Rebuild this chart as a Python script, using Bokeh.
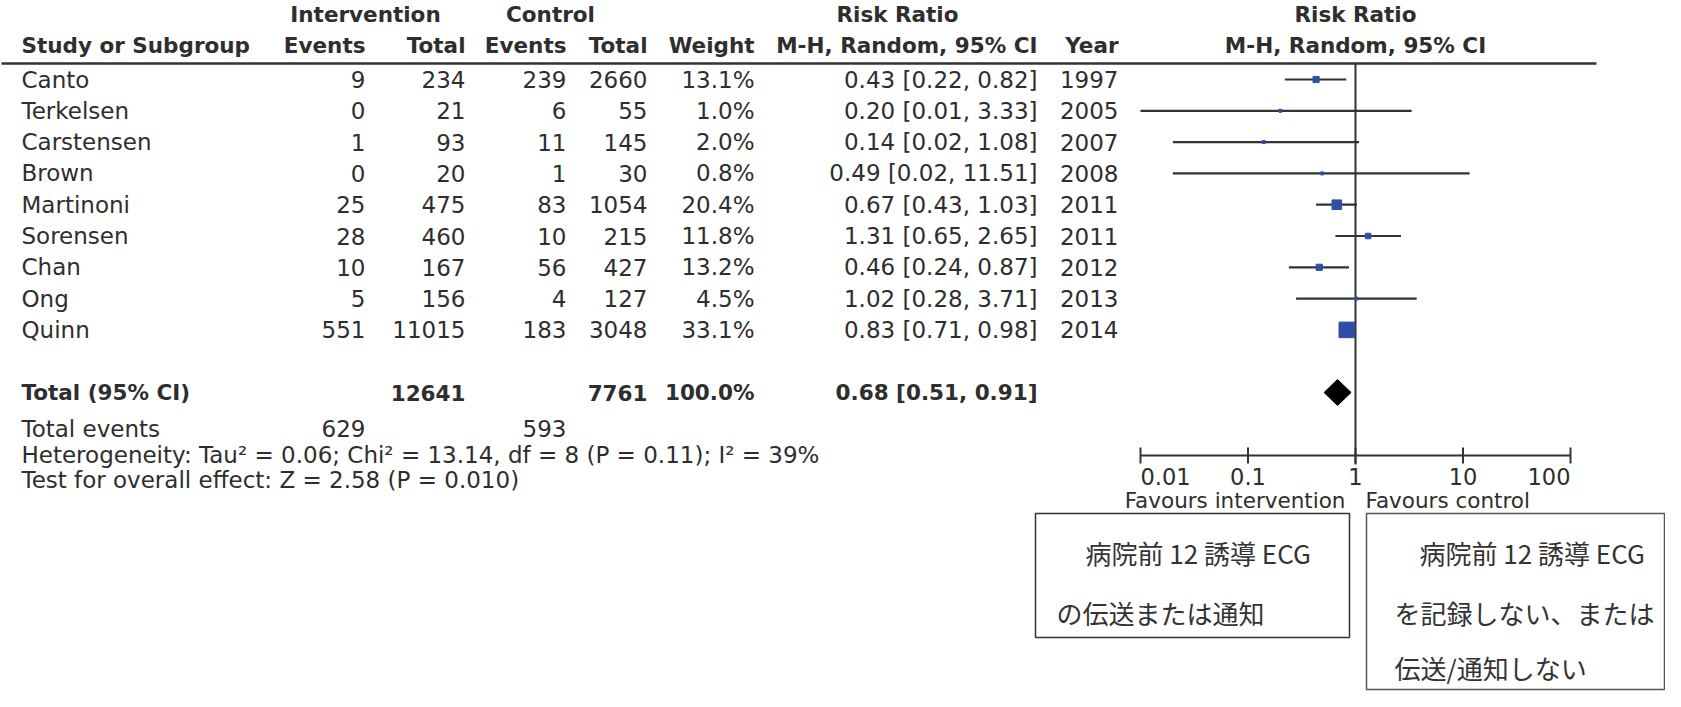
from bokeh.plotting import figure
from bokeh.models import Range1d, LogScale, ColumnDataSource
from bokeh.core.properties import value
from bokeh.embed import file_html
from bokeh.resources import INLINE

# ---------------- data ----------------
studies = ["Canto", "Terkelsen", "Carstensen", "Brown", "Martinoni",
           "Sorensen", "Chan", "Ong", "Quinn"]
int_events = [9, 0, 1, 0, 25, 28, 10, 5, 551]
int_total = [234, 21, 93, 20, 475, 460, 167, 156, 11015]
ctl_events = [239, 6, 11, 1, 83, 10, 56, 4, 183]
ctl_total = [2660, 55, 145, 30, 1054, 215, 427, 127, 3048]
weights = [13.1, 1.0, 2.0, 0.8, 20.4, 11.8, 13.2, 4.5, 33.1]
rr = [0.43, 0.20, 0.14, 0.49, 0.67, 1.31, 0.46, 1.02, 0.83]
rr_lo = [0.22, 0.01, 0.02, 0.02, 0.43, 0.65, 0.24, 0.28, 0.71]
rr_hi = [0.82, 3.33, 1.08, 11.51, 1.03, 2.65, 0.87, 3.71, 0.98]
years = [1997, 2005, 2007, 2008, 2011, 2011, 2012, 2013, 2014]

total_int = 12641
total_ctl = 7761
total_weight = 100.0
total_rr = 0.68
total_lo = 0.51
total_hi = 0.91
total_events_int = 629
total_events_ctl = 593
heterogeneity = "Heterogeneity: Tau\u00b2 = 0.06; Chi\u00b2 = 13.14, df = 8 (P = 0.11); I\u00b2 = 39%"
overall = "Test for overall effect: Z = 2.58 (P = 0.010)"

tick_values = [0.01, 0.1, 1, 10, 100]
tick_labels = ["0.01", "0.1", "1", "10", "100"]
favours_left = "Favours intervention"
favours_right = "Favours control"
box_left_lines = ["病院前 12 誘導 ECG", "の伝送または通知"]
box_right_lines = ["病院前 12 誘導 ECG", "を記録しない、または", "伝送/通知しない"]

# ---------------- layout ----------------
W, H = 1665, 691
ONE_X = 1355.0      # pixel of RR = 1
DECADE = 107.5      # pixels per decade
lo_exp = -ONE_X / DECADE
hi_exp = (W - ONE_X) / DECADE

TEXT = "#2e2e2e"
LINE = "#333333"
BLUE = "#2f4ea6"
FONT = "DejaVu Sans"
JFONT = "Noto Sans CJK JP"
REG = 23
BLD = 21.5

p = figure(width=W, height=H, output_backend="svg", toolbar_location=None,
           x_range=Range1d(0, W), y_range=Range1d(H, 0),
           x_axis_location=None, y_axis_location=None,
           min_border=0, outline_line_color=None)
p.grid.visible = False
p.extra_x_ranges = {"rr": Range1d(10 ** lo_exp, 10 ** hi_exp)}
p.extra_x_scales = {"rr": LogScale()}


def txt(xs, ys, texts, align="left", size=REG, bold=False, color=TEXT,
        font=FONT, rng="default"):
    src = ColumnDataSource(dict(x=list(xs), y=list(ys), text=list(texts)))
    p.text("x", "y", "text", source=src, text_align=align,
           text_baseline="middle", text_font=value(font),
           text_font_size=f"{size}px",
           text_font_style="bold" if bold else "normal",
           text_color=color, x_range_name=rng)


n = len(studies)
ROW0, DY = 79.0, 31.3
ys = [ROW0 + DY * i for i in range(n)]
Y_TOTAL = ROW0 + DY * (n + 1)
Y_TEV = 428
Y_HET = 454
Y_TEST = 479
Y_H1, Y_H2, Y_RULE = 14, 45, 63

NAME_X = 21
COL_IE, COL_IT, COL_CE, COL_CT = 365, 465, 566, 647
COL_W, COL_CI, COL_Y = 754, 1037, 1118

# headers
txt([365, 550, 897], [Y_H1] * 3, ["Intervention", "Control", "Risk Ratio"],
    align="center", bold=True, size=BLD)
txt([1], [Y_H1], ["Risk Ratio"], align="center", bold=True, size=BLD, rng="rr")
txt([1], [Y_H2], ["M-H, Random, 95% CI"], align="center", bold=True, size=BLD, rng="rr")
txt([NAME_X], [Y_H2], ["Study or Subgroup"], bold=True, size=BLD)
txt([COL_IE, COL_IT, COL_CE, COL_CT, COL_W, COL_CI, COL_Y], [Y_H2] * 7,
    ["Events", "Total", "Events", "Total", "Weight", "M-H, Random, 95% CI", "Year"],
    align="right", bold=True, size=BLD)
p.segment(x0=[1], x1=[1596], y0=[Y_RULE], y1=[Y_RULE],
          line_color=LINE, line_width=2.5)

# study rows
txt([NAME_X] * n, ys, studies)
txt([COL_IE] * n, ys, [str(v) for v in int_events], align="right")
txt([COL_IT] * n, ys, [str(v) for v in int_total], align="right")
txt([COL_CE] * n, ys, [str(v) for v in ctl_events], align="right")
txt([COL_CT] * n, ys, [str(v) for v in ctl_total], align="right")
txt([COL_W] * n, ys, [f"{w:.1f}%" for w in weights], align="right")
txt([COL_CI] * n, ys, [f"{a:.2f} [{b:.2f}, {c:.2f}]" for a, b, c in zip(rr, rr_lo, rr_hi)],
    align="right")
txt([COL_Y] * n, ys, [str(v) for v in years], align="right")

# totals
txt([NAME_X], [Y_TOTAL], ["Total (95% CI)"], bold=True, size=BLD)
txt([COL_IT, COL_CT, COL_W, COL_CI], [Y_TOTAL] * 4,
    [str(total_int), str(total_ctl), f"{total_weight:.1f}%",
     f"{total_rr:.2f} [{total_lo:.2f}, {total_hi:.2f}]"],
    align="right", bold=True, size=BLD)
txt([NAME_X], [Y_TEV], ["Total events"])
txt([COL_IE, COL_CE], [Y_TEV] * 2, [str(total_events_int), str(total_events_ctl)],
    align="right")
txt([NAME_X, NAME_X], [Y_HET, Y_TEST], [heterogeneity, overall])

# forest plot
Y_AXIS = 455
p.segment(x0=[1], x1=[1], y0=[Y_RULE], y1=[Y_AXIS + 9], line_color=LINE,
          line_width=2, x_range_name="rr")
p.segment(x0=rr_lo, x1=rr_hi, y0=ys, y1=ys, line_color=LINE, line_width=2.2,
          x_range_name="rr")
sizes = [max(3.0, 0.47 * w) for w in weights]
p.scatter(x=rr, y=ys, size=sizes, marker="square", fill_color=BLUE,
          line_color=BLUE, x_range_name="rr")
p.patch(x=[total_lo, total_rr, total_hi, total_rr],
        y=[Y_TOTAL, Y_TOTAL - 13, Y_TOTAL, Y_TOTAL + 13],
        fill_color="black", line_color="black", x_range_name="rr")

# axis
p.segment(x0=[tick_values[0]], x1=[tick_values[-1]], y0=[Y_AXIS], y1=[Y_AXIS],
          line_color=LINE, line_width=2, x_range_name="rr")
p.segment(x0=tick_values, x1=tick_values, y0=[Y_AXIS - 8] * len(tick_values),
          y1=[Y_AXIS + 8] * len(tick_values), line_color=LINE, line_width=2,
          x_range_name="rr")
aligns = ["left", "center", "center", "center", "right"]
for tv, tl, al in zip(tick_values, tick_labels, aligns):
    txt([tv], [Y_AXIS + 21], [tl], align=al, size=22.5, rng="rr")
txt([1345], [500], [favours_left], align="right", size=21.5)
txt([1365], [500], [favours_right], align="left", size=21.5)

# boxes with Japanese text
p.quad(left=[1035], right=[1349], top=[513], bottom=[637], fill_color=None,
       line_color=LINE, line_width=1.5)
p.quad(left=[1366], right=[1664], top=[513], bottom=[689], fill_color=None,
       line_color="#555555", line_width=1.5)
txt([1085, 1056], [552, 612], box_left_lines, size=26, font=JFONT, color="#333333")
txt([1419, 1394, 1394], [552, 612, 667], box_right_lines, size=26, font=JFONT,
    color="#333333")

open("out.html", "w").write(file_html(p, INLINE))
